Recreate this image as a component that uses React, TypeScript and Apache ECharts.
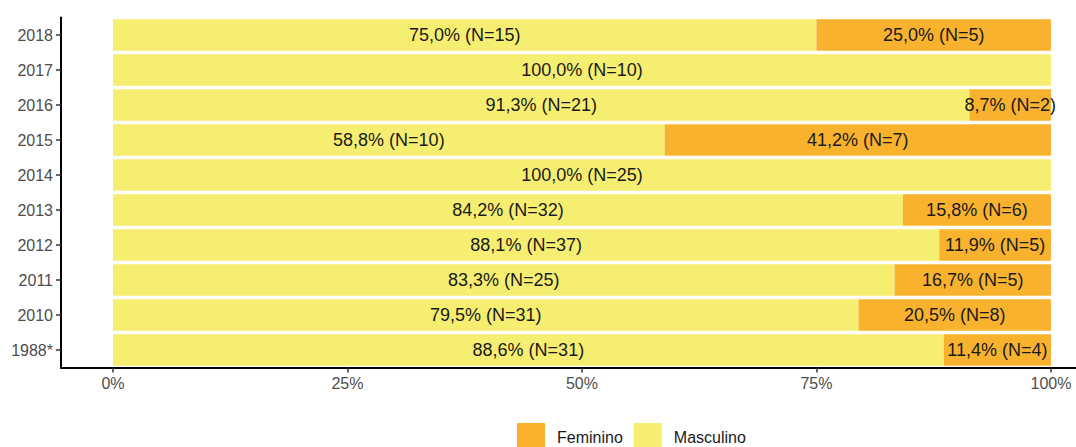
import React, { useEffect, useRef } from "react";
import * as echarts from "echarts";

const categories = ["1988*", "2010", "2011", "2012", "2013", "2014", "2015", "2016", "2017", "2018"];
const masculinoN = [31, 31, 25, 37, 32, 25, 10, 21, 10, 15];
const femininoN = [4, 8, 5, 5, 6, 0, 7, 2, 0, 5];
const xTicks = [0, 25, 50, 75, 100];

const FONT = "'Liberation Sans', Arial, sans-serif";

function pct(n: number, i: number) {
  const total = masculinoN[i] + femininoN[i];
  return (n / total) * 100;
}

function fmtLabel(p: number, n: number) {
  if (!n) return "";
  return p.toFixed(1).replace(".", ",") + "% (N=" + n + ")";
}

export default function App() {
  const ref = useRef<HTMLDivElement>(null);
  useEffect(() => {
    if (!ref.current) return;
    const chart = echarts.init(ref.current, undefined, { renderer: "svg" });
    const mascData = masculinoN.map((n, i) => ({ value: pct(n, i), n }));
    const femData = femininoN.map((n, i) => ({ value: pct(n, i), n }));
    const labelCfg = {
      show: true,
      position: "inside",
      fontFamily: FONT,
      fontSize: 18,
      color: "#1a1a1a",
      formatter: (p: any) => fmtLabel(p.data.value, p.data.n),
    };
    chart.setOption({
      animation: false,
      textStyle: { fontFamily: FONT },
      legend: {
        data: ["Feminino", "Masculino"],
        left: 517,
        top: 423,
        padding: 0,
        itemWidth: 28,
        itemHeight: 28,
        itemGap: 11,
        icon: "rect",
        formatter: (name: string) => "{t|" + name + "}",
        textStyle: {
          fontFamily: FONT,
          fontSize: 16,
          color: "#1a1a1a",
          rich: { t: { fontFamily: FONT, fontSize: 16, color: "#1a1a1a", padding: [0, 0, 0, 7] } },
        },
      },
      grid: { left: 61, right: 0, top: 17.5, height: 350, containLabel: false },
      xAxis: {
        type: "value",
        min: -5.54,
        max: 102.67,
        splitLine: { show: false },
        axisLine: { show: true, onZero: false, lineStyle: { color: "#000", width: 2 } },
        axisTick: { show: true, customValues: xTicks, length: 5, lineStyle: { color: "#333", width: 1.5 } },
        axisLabel: {
          customValues: xTicks,
          formatter: (v: number) => v + "%",
          fontFamily: FONT,
          fontSize: 16,
          color: "#4d4d4d",
          margin: 8,
        },
      },
      yAxis: {
        type: "category",
        data: categories,
        axisLine: { show: true, onZero: false, lineStyle: { color: "#000", width: 2 } },
        axisTick: { show: true, alignWithLabel: true, length: 5, lineStyle: { color: "#333", width: 1.5 } },
        axisLabel: { fontFamily: FONT, fontSize: 16, color: "#4d4d4d", margin: 8 },
      },
      series: [
        {
          name: "Masculino",
          type: "bar",
          stack: "s",
          barWidth: "90%",
          itemStyle: { color: "#F6EE70" },
          label: labelCfg,
          data: mascData,
        },
        {
          name: "Feminino",
          type: "bar",
          stack: "s",
          barWidth: "90%",
          itemStyle: { color: "#F8B22E" },
          label: labelCfg,
          data: femData,
        },
      ],
    });
    return () => chart.dispose();
  }, []);
  return (
    <div
      ref={ref}
      style={{ position: "fixed", left: 0, top: 0, width: 1076, height: 447, background: "#fff" }}
    />
  );
}
